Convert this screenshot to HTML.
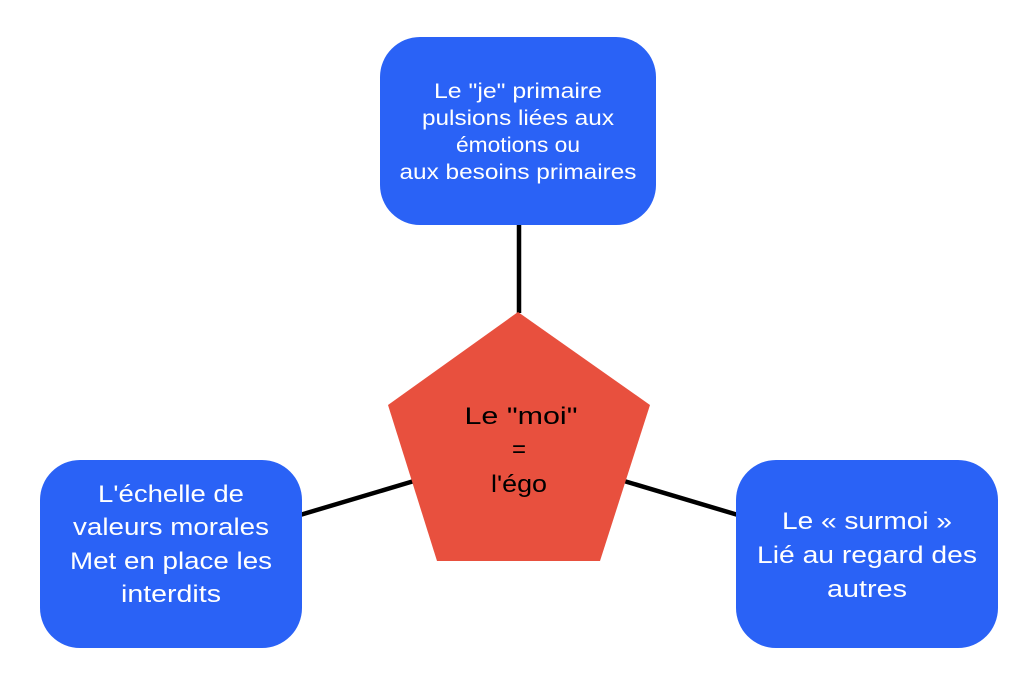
<!DOCTYPE html>
<html><head><meta charset="utf-8"><style>
html,body{margin:0;padding:0;background:#fff;}
svg text{font-family:"Liberation Sans",sans-serif;}
</style></head><body>
<svg width="1023" height="684" viewBox="0 0 1023 684" xmlns="http://www.w3.org/2000/svg">
<rect width="1023" height="684" fill="#fff"/>
<line x1="519" y1="222" x2="519" y2="313" stroke="#000" stroke-width="4.5"/>
<line x1="300" y1="515" x2="414" y2="481" stroke="#000" stroke-width="4.5"/>
<line x1="624" y1="481" x2="738" y2="515" stroke="#000" stroke-width="4.5"/>
<rect x="380" y="37" width="276" height="188" rx="40" fill="#2a62f6"/>
<rect x="40" y="460" width="262" height="188" rx="40" fill="#2a62f6"/>
<rect x="736" y="460" width="262" height="188" rx="40" fill="#2a62f6"/>
<polygon points="518,312 650,405 600,561 437,561 388,405" fill="#e8503e"/>
<g fill="#fff" font-size="21" text-anchor="middle">
<text x="518" y="98" textLength="168" lengthAdjust="spacingAndGlyphs">Le "je" primaire</text>
<text x="518" y="125" textLength="192" lengthAdjust="spacingAndGlyphs">pulsions liées aux</text>
<text x="518" y="152" textLength="124" lengthAdjust="spacingAndGlyphs">émotions ou</text>
<text x="518" y="179" textLength="237" lengthAdjust="spacingAndGlyphs">aux besoins primaires</text>
</g>
<g fill="#fff" font-size="24" text-anchor="middle">
<text x="171" y="502" textLength="146" lengthAdjust="spacingAndGlyphs">L'échelle de</text>
<text x="171" y="535" textLength="196" lengthAdjust="spacingAndGlyphs">valeurs morales</text>
<text x="171" y="569" textLength="202" lengthAdjust="spacingAndGlyphs">Met en place les</text>
<text x="171" y="602" textLength="100" lengthAdjust="spacingAndGlyphs">interdits</text>
<text x="867" y="529" textLength="170" lengthAdjust="spacingAndGlyphs">Le « surmoi »</text>
<text x="867" y="563" textLength="220" lengthAdjust="spacingAndGlyphs">Lié au regard des</text>
<text x="867" y="597" textLength="80" lengthAdjust="spacingAndGlyphs">autres</text>
</g>
<g fill="#000" font-size="24" text-anchor="middle">
<text x="521" y="424" textLength="113" lengthAdjust="spacingAndGlyphs">Le "moi"</text>
<text x="519" y="457">=</text>
<text x="519" y="492" textLength="56" lengthAdjust="spacingAndGlyphs">l'égo</text>
</g>
</svg>
</body></html>
